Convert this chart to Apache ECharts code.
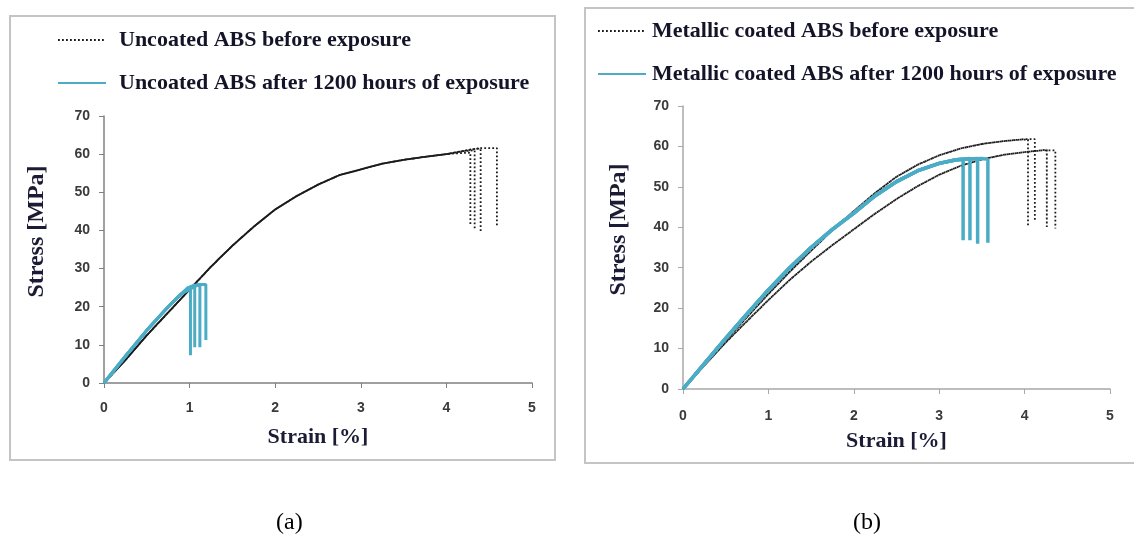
<!DOCTYPE html>
<html>
<head>
<meta charset="utf-8">
<script src="https://cdn.jsdelivr.net/npm/echarts@6/dist/echarts.min.js"></script>
<style>
  html, body { margin: 0; padding: 0; background: #fff; }
  #chart { width: 1134px; height: 544px; }
</style>
</head>
<body>
<div id="chart"></div>
<script>
// ---- data: [strain %, stress MPa] ----
// (a) uncoated ABS, before exposure: shared rise, then each specimen's end
const uncoatedBeforeRise = [[0, 0], [0.25, 6], [0.5, 12.5], [0.75, 18.5], [1, 24.5], [1.25, 30.5], [1.5, 36], [1.75, 41], [2, 45.5], [2.25, 49], [2.5, 52], [2.75, 54.5], [3, 56], [3.25, 57.5], [3.5, 58.5], [3.75, 59.3], [4, 60]];
const uncoatedBeforeEnds = [
  [[4.1, 60.2], [4.28, 60.4], [4.28, 41.5]],
  [[4.2, 60.8], [4.33, 61], [4.33, 40]],
  [[4.3, 61.3], [4.4, 61.5], [4.4, 39.5]],
  [[4.4, 61.6], [4.59, 61.6], [4.59, 41]]
];
// (a) uncoated ABS, after 1200 h
const uncoatedAfterRise = [[0, 0], [0.25, 7], [0.5, 13.8], [0.75, 20], [0.9, 23.3]];
const uncoatedAfterEnds = [
  [[0.98, 25], [1.01, 25.2], [1.01, 7.3]],
  [[1.02, 25.4], [1.06, 25.5], [1.06, 9.4]],
  [[1.05, 25.6], [1.12, 25.6], [1.12, 9.4]],
  [[1.1, 25.8], [1.19, 25.8], [1.19, 11.3]]
];
// (b) metallic coated ABS, before exposure: two bundles
const coatedBeforeUpper = [[0, 0], [0.25, 6], [0.5, 12], [0.75, 17.8], [1, 23.5], [1.25, 29], [1.5, 34.2], [1.75, 39.3], [2, 44], [2.25, 48.5], [2.5, 52.5], [2.75, 55.5], [3, 57.8], [3.25, 59.5], [3.5, 60.6], [3.75, 61.3]];
const coatedBeforeUpperEnds = [
  [[3.95, 61.7], [4.04, 61.7], [4.04, 40.1]],
  [[4.0, 61.8], [4.12, 61.8], [4.12, 41.4]]
];
const coatedBeforeLower = [[0, 0], [0.25, 5.8], [0.5, 11.5], [0.75, 16.8], [1, 22], [1.25, 27], [1.5, 31.5], [1.75, 35.6], [2, 39.5], [2.25, 43.4], [2.5, 47], [2.75, 50.2], [3, 53], [3.25, 55.2], [3.5, 56.8], [3.75, 57.9], [4, 58.6]];
const coatedBeforeLowerEnds = [
  [[4.26, 59.2], [4.26, 40.1]],
  [[4.2, 59], [4.36, 59], [4.36, 39.7]]
];
// (b) metallic coated ABS, after 1200 h
const coatedAfterRise = [[0, 0], [0.25, 6.3], [0.5, 12.5], [0.75, 18.6], [1, 24.5], [1.25, 30], [1.5, 35], [1.75, 39.5], [2, 43.5], [2.25, 47.8], [2.5, 51.3], [2.75, 54], [3, 55.8], [3.2, 56.7]];
const coatedAfterEnds = [
  [[3.28, 56.8], [3.28, 36.8]],
  [[3.36, 57], [3.36, 36.8]],
  [[3.45, 57], [3.45, 35.9]],
  [[3.5, 57], [3.57, 56.8], [3.57, 36.2]]
];

const namesA = ["Uncoated ABS before exposure", "Uncoated ABS after 1200 hours of exposure"];
const namesB = ["Metallic coated ABS before exposure", "Metallic coated ABS after 1200 hours of exposure"];
const strainTicks = [0, 5, 1];   // min, max, interval
const stressTicks = [0, 70, 10];

const BLUE = "#4bacc6";
const serif = "'Liberation Serif', 'DejaVu Serif', serif";

// dash offset differs per specimen so where the curves overlap they read as a dark line
function dotted(name, data, idx, k) {
  return {
    name, type: "line", data, xAxisIndex: idx, yAxisIndex: idx,
    symbol: "none", smooth: false, animation: false,
    lineStyle: { color: "#1a1a1a", width: 1.8, type: [1.8, 2.2], dashOffset: k * 1.1 },
    itemStyle: { color: "#1a1a1a" },
    z: 2
  };
}
function solid(name, data, idx, w) {
  return {
    name, type: "line", data, xAxisIndex: idx, yAxisIndex: idx,
    symbol: "none", smooth: false, animation: false,
    lineStyle: { color: BLUE, width: w },
    itemStyle: { color: BLUE },
    z: 3
  };
}

const series = [];
uncoatedBeforeEnds.forEach((e, k) => series.push(dotted(namesA[0], uncoatedBeforeRise.concat(e), 0, k)));
uncoatedAfterEnds.forEach(e => series.push(solid(namesA[1], uncoatedAfterRise.concat(e), 0, 3)));
coatedBeforeUpperEnds.forEach((e, k) => series.push(dotted(namesB[0], coatedBeforeUpper.concat(e), 1, k * 2)));
coatedBeforeLowerEnds.forEach((e, k) => series.push(dotted(namesB[0], coatedBeforeLower.concat(e), 1, k * 2 + 1)));
coatedAfterEnds.forEach(e => series.push(solid(namesB[1], coatedAfterRise.concat(e), 1, 3.5)));

function xAxis(idx, axisColor, nameGap, labelMargin) {
  return {
    type: "value", gridIndex: idx,
    min: strainTicks[0], max: strainTicks[1], interval: strainTicks[2],
    name: "Strain [%]", nameLocation: "middle", nameGap,
    nameTextStyle: { fontFamily: serif, fontWeight: "bold", fontSize: 22, color: "#1b1b35" },
    axisLine: { lineStyle: { color: axisColor, width: 1.5 } },
    axisTick: { show: true, length: 5, lineStyle: { color: axisColor } },
    axisLabel: { margin: labelMargin, fontFamily: "'Liberation Sans', sans-serif", fontWeight: "bold", fontSize: 14, color: "#3a3a3a" },
    splitLine: { show: false }
  };
}
function yAxis(idx, axisColor, nameGap) {
  return {
    type: "value", gridIndex: idx,
    min: stressTicks[0], max: stressTicks[1], interval: stressTicks[2],
    name: "Stress [MPa]", nameLocation: "middle", nameGap, nameRotate: 90,
    nameTextStyle: { fontFamily: serif, fontWeight: "bold", fontSize: 24, color: "#1b1b35", padding: [0, 0, 0, 36] },
    axisLine: { show: true, lineStyle: { color: axisColor, width: 1.5 } },
    axisTick: { show: true, length: 5, lineStyle: { color: axisColor } },
    axisLabel: { margin: 14, fontFamily: "'Liberation Sans', sans-serif", fontWeight: "bold", fontSize: 14, color: "#3a3a3a" },
    splitLine: { show: false }
  };
}
function legend(names, left, top, textPad) {
  return {
    data: names, orient: "vertical", left, top, padding: 0,
    itemWidth: 48, itemHeight: 14, itemGap: 21,
    itemStyle: { opacity: 0 },
    textStyle: { fontFamily: serif, fontWeight: "bold", fontSize: 22, color: "#141428", lineHeight: 22, padding: [0, 0, 0, textPad] },
    selectedMode: false
  };
}

const chart = echarts.init(document.getElementById("chart"), null, { renderer: "canvas" });
chart.setOption({
  backgroundColor: "#ffffff",
  animation: false,
  legend: [legend(namesA, 57, 29, 8), legend(namesB, 597, 20, 1)],
  grid: [
    { left: 104, top: 116, width: 428, height: 267 },
    { left: 683, top: 106, width: 427, height: 283 }
  ],
  xAxis: [xAxis(0, "#808080", 43, 18), xAxis(1, "#a8a8a8", 41, 20)],
  yAxis: [yAxis(0, "#808080", 55), yAxis(1, "#a8a8a8", 52)],
  series,
  graphic: [
    { type: "rect", shape: { x: 10, y: 16, width: 545, height: 444 }, style: { fill: "none", stroke: "#c4c4c4", lineWidth: 2 }, z: -1 },
    { type: "rect", shape: { x: 585, y: 8, width: 560, height: 455 }, style: { fill: "none", stroke: "#c4c4c4", lineWidth: 2 }, z: -1 },
    { type: "text", left: 276, top: 511, style: { text: "(a)", font: "24px " + serif, fill: "#000" } },
    { type: "text", left: 853, top: 511, style: { text: "(b)", font: "24px " + serif, fill: "#000" } }
  ]
});
</script>
</body>
</html>
